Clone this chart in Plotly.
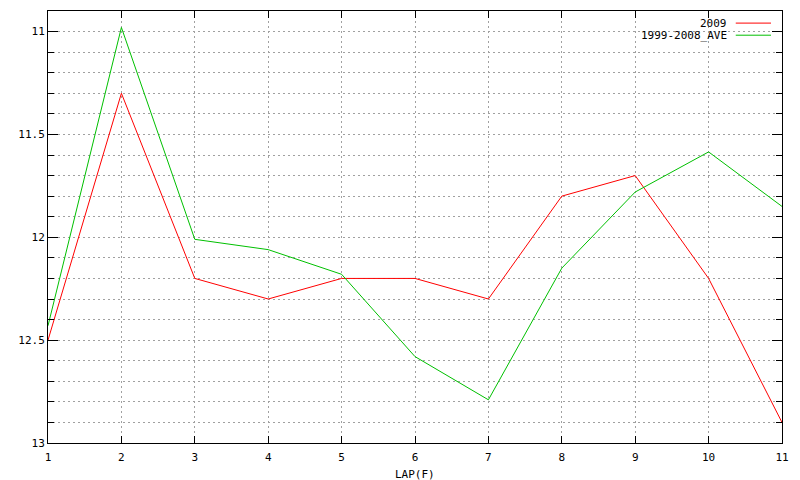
import plotly.graph_objects as go

laps = [1, 2, 3, 4, 5, 6, 7, 8, 9, 10, 11]
times_2009 = [12.5, 11.3, 12.2, 12.3, 12.2, 12.2, 12.3, 11.8, 11.7, 12.2, 12.9]
times_ave = [12.43, 10.98, 12.01, 12.06, 12.18, 12.58, 12.79, 12.15, 11.78, 11.585, 11.85]
series_names = ["2009", "1999-2008_AVE"]
series_colors = ["#ff0000", "#00c000"]
y_ticks = [11, 11.5, 12, 12.5, 13]
y_tick_text = ["11", "11.5", "12", "12.5", "13"]
x_title = "LAP(F)"

FONT = "DejaVu Sans Mono"
GRID = "#a0a0a0"

fig = go.Figure()
for name, vals, col in zip(series_names, [times_2009, times_ave], series_colors):
    fig.add_trace(go.Scatter(x=laps, y=vals, mode="lines", name=name,
                             line=dict(color=col, width=1), showlegend=False))

fig.update_layout(
    width=800, height=480,
    margin=dict(l=48, r=18, t=11, b=37),
    paper_bgcolor="white", plot_bgcolor="white",
    font=dict(family=FONT, size=11, color="black"),
    xaxis=dict(range=[1, 11], tickmode="array", tickvals=laps,
               ticks="inside", ticklen=7, tickcolor="black", tickwidth=1,
               showline=True, linecolor="black", linewidth=1, mirror="allticks",
               showgrid=True, gridcolor=GRID, griddash="2px,3px", gridwidth=1,
               zeroline=False, tickfont=dict(family=FONT, size=11),
               ticklabelstandoff=4),
    yaxis=dict(range=[13, 10.9], tickmode="array", tickvals=y_ticks, ticktext=y_tick_text,
               ticks="inside", ticklen=10, tickcolor="black", tickwidth=1,
               showline=True, linecolor="black", linewidth=1, mirror="allticks",
               showgrid=True, gridcolor=GRID, griddash="2px,3px", gridwidth=1,
               zeroline=False, tickfont=dict(family=FONT, size=11),
               minor=dict(dtick=0.1, tick0=11, ticks="inside", ticklen=6, tickcolor="black",
                          showgrid=True, gridcolor=GRID, griddash="2px,3px", gridwidth=1)),
)

fig.add_annotation(text=x_title, xref="paper", yref="paper", x=0.5, y=0,
                   xanchor="center", yanchor="top", yshift=-23, showarrow=False,
                   font=dict(family=FONT, size=11))

leg_y = [0.972, 0.944]
for name, col, yy in zip(series_names, series_colors, leg_y):
    fig.add_annotation(text=name, xref="paper", yref="paper", x=0.928, y=yy,
                       xanchor="right", yanchor="middle", showarrow=False,
                       font=dict(family=FONT, size=11))
    fig.add_shape(type="line", xref="paper", yref="paper", x0=0.937, x1=0.985,
                  y0=yy, y1=yy, line=dict(color=col, width=1))

fig.write_html("out.html", config={"displayModeBar": False},
               post_script="document.body.style.margin='0';document.body.style.padding='0';")
